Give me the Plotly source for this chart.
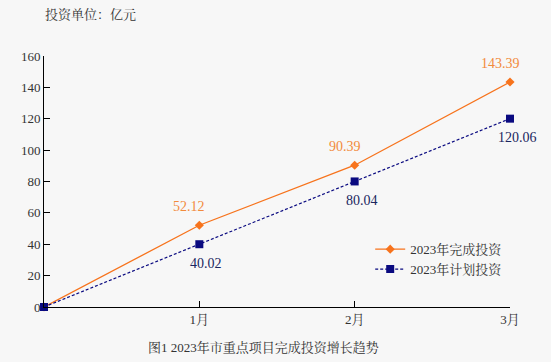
import plotly.graph_objects as go

months = ["1月", "2月", "3月"]
x_pos = [0, 1, 2, 3]
completed = [0, 52.12, 90.39, 143.39]
planned = [0, 40.02, 80.04, 120.06]

FONT = "Liberation Serif, Noto Serif CJK SC, Noto Sans CJK SC, serif"
ORANGE = "#f7731c"
NAVY = "#0a0a80"
BG = "#f7f7f7"

fig = go.Figure()
fig.add_trace(go.Scatter(
    x=x_pos, y=completed, name="2023年完成投资", mode="lines+markers",
    line=dict(color=ORANGE, width=1.3),
    marker=dict(symbol="diamond", size=7, color=ORANGE),
    cliponaxis=False,
))
fig.add_trace(go.Scatter(
    x=x_pos, y=planned, name="2023年计划投资", mode="lines+markers",
    line=dict(color=NAVY, width=1.2, dash="3px,2px"),
    marker=dict(symbol="square", size=8, color=NAVY),
    cliponaxis=False,
))

annotations = []
for xv, yv in zip(x_pos[1:], completed[1:]):
    annotations.append(dict(x=xv, y=yv, text=f"{yv:.2f}", showarrow=False,
                            xshift=-10, yshift=19,
                            font=dict(size=14, color="#f28a3c")))
for xv, yv in zip(x_pos[1:], planned[1:]):
    annotations.append(dict(x=xv, y=yv, text=f"{yv:.2f}", showarrow=False,
                            xshift=7, yshift=-19,
                            font=dict(size=14, color="#1a2660")))

annotations += [
    dict(text="投资单位：亿元", xref="paper", yref="paper", x=-0.002, y=1.0,
         yshift=42, xanchor="left", yanchor="middle", showarrow=False,
         font=dict(size=13, color="#333333")),
    dict(text="图1 2023年市重点项目完成投资增长趋势", xref="paper", yref="paper",
         x=0.47, y=0, yshift=-40, xanchor="center", yanchor="middle",
         showarrow=False, font=dict(size=13, color="#333333")),
]

fig.update_layout(
    width=551, height=362,
    paper_bgcolor=BG, plot_bgcolor=BG,
    margin=dict(l=44, r=41, t=56, b=55),
    font=dict(family=FONT, size=13, color="#333333"),
    showlegend=True,
    legend=dict(x=0.70, y=0.29, xanchor="left", yanchor="top",
                bgcolor="rgba(0,0,0,0)", font=dict(size=13, color="#333333"),
                tracegroupgap=0, itemwidth=30),
    xaxis=dict(range=[0, 3], tickvals=[1, 2, 3], ticktext=months,
               showgrid=False, zeroline=False, showline=True, linecolor="black",
               linewidth=1, ticks="inside", ticklen=6, tickcolor="black",
               tickfont=dict(size=13), automargin=False),
    yaxis=dict(range=[0, 160], dtick=20, showgrid=False, zeroline=False,
               showline=True, linecolor="black", linewidth=1, ticks="inside",
               ticklen=6, tickcolor="black", tickfont=dict(size=13),
               automargin=False),
    annotations=annotations,
)

fig.write_html(
    "out.html",
    config={"displayModeBar": False},
    post_script="document.body.style.margin='0';document.body.style.background='%s';" % BG,
)
